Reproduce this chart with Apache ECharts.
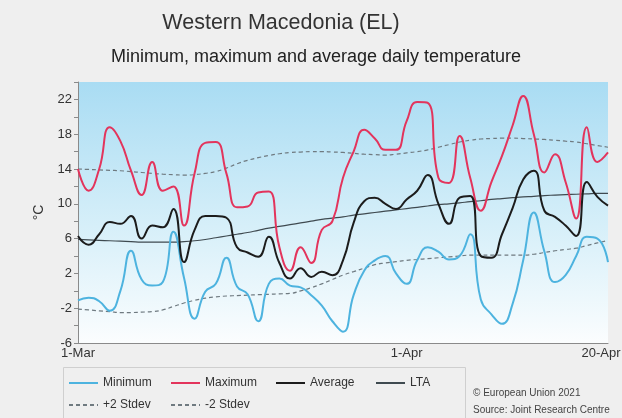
<!DOCTYPE html>
<html>
<head>
<meta charset="utf-8">
<script src="https://cdn.jsdelivr.net/npm/echarts@6/dist/echarts.min.js"></script>
<style>
html,body{margin:0;padding:0;background:#efefef;}
#chart{width:622px;height:418px;}
</style>
</head>
<body>
<div id="chart"></div>
<script>
// Categories: 1-Mar .. 20-Apr
const days = [];
for (let i = 1; i <= 31; i++) days.push(i + '-Mar');
for (let i = 1; i <= 20; i++) days.push(i + '-Apr');

const xTickLabels = ['1-Mar', '1-Apr', '20-Apr'];
const yTickLabels = [-6, -2, 2, 6, 10, 14, 18, 22];

const minimum = [-1.1, -0.8, -1.2, -2.3, 0, 4.6, 1.3, 0.6, 1.0, 6.8,
  1.5, -3.2, -0.1, 0.8, 3.8, 0.5, -0.4, -3.5, 0.8, 1.4,
  0.6, 0.4, -0.5, -1.7, -3.5, -4.7, -0.5, 2.3, 3.5, 4.0,
  2.0, 0.8, 3.5, 5.0, 4.5, 3.6, 4.0, 6.5, -1.0, -2.7,
  -3.8, -1.5, 3.5, 9.0, 4.5, 1.0, 1.8, 4.0, 6.2, 6.0, 3.3];

const maximum = [14, 11.5, 14, 18.8, 17.2, 13.8, 11, 14.8, 11.5, 12,
  7.5, 13.5, 17, 17.1, 13.5, 9.6, 9.7, 11.3, 11.4, 5,
  2.3, 5, 3.2, 7, 8, 13, 16, 18.5, 17.5, 16.2,
  16.2, 19.5, 21.7, 21.6, 13, 12.4, 17.8, 13, 9.2, 12.5,
  15.5, 19, 22.4, 18, 13.6, 15.7, 12.5, 8.3, 18.8, 14.8, 15.9];

const average = [6.3, 5.3, 6.5, 7.9, 7.7, 8.6, 6.0, 7.5, 7.3, 9.4,
  3.3, 7.0, 8.6, 8.6, 8.4, 5.0, 4.4, 3.9, 6.2, 3.2,
  1.4, 2.6, 1.6, 2.2, 1.8, 3.5, 7.8, 10.3, 10.7, 10.0,
  9.4, 10.5, 11.5, 13.3, 10.0, 7.7, 10.7, 10.9, 4.0, 3.8,
  6.5, 9.5, 12.8, 13.8, 9.2, 8.5, 7.5, 6.3, 12.5, 10.8, 9.8];

const lta = [5.9, 5.85, 5.8, 5.75, 5.7, 5.65, 5.6, 5.6, 5.6, 5.6,
  5.65, 5.75, 5.9, 6.1, 6.3, 6.5, 6.7, 6.95, 7.2, 7.4,
  7.6, 7.8, 8.0, 8.2, 8.35, 8.5, 8.7, 8.85, 9.0, 9.15,
  9.3, 9.45, 9.6, 9.75, 9.9, 10.0, 10.1, 10.25, 10.35, 10.5,
  10.6, 10.7, 10.8, 10.85, 10.95, 11.0, 11.05, 11.1, 11.15, 11.2, 11.2];

const plus2 = [14.0, 13.95, 13.9, 13.85, 13.8, 13.7, 13.6, 13.5, 13.4, 13.35,
  13.3, 13.35, 13.5, 13.7, 14.1, 14.6, 15.0, 15.3, 15.55, 15.75,
  15.9, 15.95, 16.0, 16.0, 15.95, 15.9, 15.8, 15.7, 15.65, 15.6,
  15.7, 15.85, 16.0, 16.2, 16.5, 16.8, 17.1, 17.3, 17.45, 17.5,
  17.55, 17.55, 17.5, 17.45, 17.4, 17.3, 17.2, 17.1, 16.9, 16.7, 16.5];

const minus2 = [-2.1, -2.2, -2.3, -2.4, -2.5, -2.5, -2.45, -2.4, -2.2, -1.8,
  -1.4, -1.1, -0.85, -0.7, -0.6, -0.55, -0.5, -0.45, -0.4, -0.35,
  -0.3, 0.0, 0.35, 0.8, 1.3, 1.8, 2.2, 2.6, 3.0, 3.2,
  3.35, 3.5, 3.6, 3.7, 3.8, 3.9, 4.0, 4.1, 4.1, 4.1,
  4.1, 4.1, 4.1, 4.2, 4.4, 4.6, 4.75, 4.9, 5.2, 5.5, 5.8];

const chart = echarts.init(document.getElementById('chart'), null, {renderer: 'canvas'});
const FONT = 'Liberation Sans, Arial, sans-serif';

function legendAt(name, left, top) {
  return {
    data: [name], left: left, top: top, padding: 0,
    itemWidth: 29, itemHeight: 12, itemGap: 0,
    itemStyle: {opacity: 0},
    textStyle: {fontFamily: FONT, fontSize: 12, color: '#333'},
    selectedMode: false
  };
}

const option = {
  backgroundColor: '#efefef',
  animation: false,
  textStyle: {fontFamily: FONT},
  grid: {
    left: 78, right: 14, top: 82, bottom: 75,
    containLabel: false,
    outerBoundsMode: 'none',
    show: true, borderWidth: 0,
    backgroundColor: new echarts.graphic.LinearGradient(0, 0, 0, 1, [
      {offset: 0, color: '#a9dcf3'},
      {offset: 0.55, color: '#d6eff9'},
      {offset: 1, color: '#fbfdfe'}
    ])
  },
  graphic: [
    {type: 'text', style: {x: 281, y: 23, text: 'Western Macedonia (EL)', font: '21.5px ' + FONT, fill: '#333', textAlign: 'center', textVerticalAlign: 'middle'}},
    {type: 'text', style: {x: 316, y: 57, text: 'Minimum, maximum and average daily temperature', font: '18px ' + FONT, fill: '#222', textAlign: 'center', textVerticalAlign: 'middle'}},
    {type: 'rect', shape: {x: 63.5, y: 367.5, width: 402, height: 60}, style: {fill: 'none', stroke: '#cfcfcf', lineWidth: 1}},
    {type: 'text', style: {x: 473, y: 393, text: '\u00a9 European Union 2021', font: '10px ' + FONT, fill: '#444', textVerticalAlign: 'middle'}},
    {type: 'text', style: {x: 473, y: 410, text: 'Source: Joint Research Centre', font: '10px ' + FONT, fill: '#444', textVerticalAlign: 'middle'}}
  ],
  legend: [
    legendAt('Minimum', 68, 377),
    legendAt('Maximum', 170, 377),
    legendAt('Average', 275, 377),
    legendAt('LTA', 375, 377),
    legendAt('+2 Stdev', 68, 399),
    legendAt('-2 Stdev', 170, 399)
  ],
  xAxis: {
    type: 'category',
    data: days,
    boundaryGap: false,
    axisLine: {onZero: false, lineStyle: {color: '#8a8a8a', width: 1}},
    axisTick: {show: false},
    axisLabel: {
      interval: function (i, v) { return xTickLabels.indexOf(v) >= 0; },
      color: '#333', fontSize: 13, margin: 4, fontFamily: FONT,
      formatter: function (v) { return v === xTickLabels[2] ? '{r|' + v + '}' : v; },
      rich: {r: {fontSize: 13, color: '#333', fontFamily: FONT, padding: [0, 14, 0, 0]}}
    },
    splitLine: {show: false}
  },
  yAxis: {
    type: 'value',
    min: -6, max: 24, interval: 2,
    name: '\u00b0C',
    nameLocation: 'middle', nameGap: 29, nameRotate: 90,
    nameTextStyle: {fontSize: 14, color: '#333', fontFamily: FONT},
    axisLine: {show: true, lineStyle: {color: '#8a8a8a', width: 1}},
    axisTick: {show: true, length: 4, lineStyle: {color: '#8a8a8a'}},
    axisLabel: {
      color: '#333', fontSize: 13, margin: 6, fontFamily: FONT,
      formatter: function (v) { return yTickLabels.indexOf(v) >= 0 ? String(v) : ''; }
    },
    splitLine: {show: false}
  },
  series: [
    {name: '+2 Stdev', type: 'line', data: plus2, smooth: true, symbol: 'none',
     lineStyle: {color: '#6f7a80', width: 1.2, type: [4, 3]}, itemStyle: {color: '#6f7a80'}},
    {name: '-2 Stdev', type: 'line', data: minus2, smooth: true, symbol: 'none',
     lineStyle: {color: '#6f7a80', width: 1.2, type: [4, 3]}, itemStyle: {color: '#6f7a80'}},
    {name: 'LTA', type: 'line', data: lta, smooth: true, symbol: 'none',
     lineStyle: {color: '#3f4a50', width: 1.2}, itemStyle: {color: '#3f4a50'}},
    {name: 'Minimum', type: 'line', data: minimum, smooth: true, symbol: 'none',
     lineStyle: {color: '#4db3df', width: 2}, itemStyle: {color: '#4db3df'}},
    {name: 'Maximum', type: 'line', data: maximum, smooth: true, symbol: 'none',
     lineStyle: {color: '#e3345c', width: 2}, itemStyle: {color: '#e3345c'}},
    {name: 'Average', type: 'line', data: average, smooth: true, symbol: 'none',
     lineStyle: {color: '#1c1c1c', width: 2}, itemStyle: {color: '#1c1c1c'}}
  ]
};
chart.setOption(option);
</script>
</body>
</html>
